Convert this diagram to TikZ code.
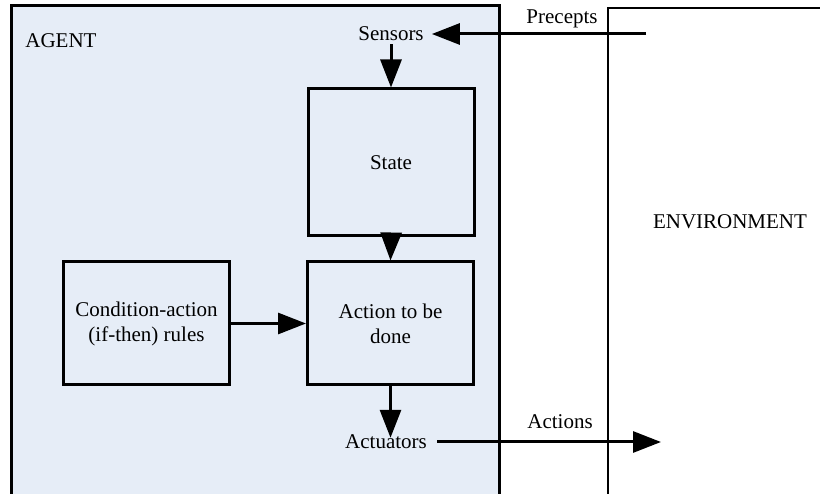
\documentclass[tikz,border=0pt]{standalone}
\usepackage{fontspec}
\setmainfont{Liberation Serif}
\usetikzlibrary{arrows.meta}
\definecolor{agentfill}{HTML}{E6EDF7}
\begin{document}
\begin{tikzpicture}[x=1pt,y=-1pt,
  every node/.style={font=\fontsize{21}{25}\selectfont, inner sep=0pt},
  blockbox/.style={draw, line width=3pt, minimum width=166pt, minimum height=123pt, align=center},
  flow/.style={line width=3pt, -{Triangle[length=28pt,width=21pt]}}]
  \useasboundingbox (0,0) rectangle (820,494);
  \clip (0,0) rectangle (820,494);
  \fill[white] (0,0) rectangle (820,494);
  % environment and agent frames
  \draw[line width=1.6pt] (608,520) -- (608,8) -- (840,8);
  \draw[line width=3pt, fill=agentfill] (11,520) -- (11,6) -- (499,6) -- (499,520);
  % labels
  \node (agent) at (61,41) {AGENT};
  \node (env) at (730,222) {ENVIRONMENT};
  \node (sensors) at (391,34) {Sensors};
  \node (actuators) at (386,442) {Actuators};
  \node (precepts) at (562,19) {Precepts};
  \node (actions) at (560,422) {Actions};
  \coordinate (pin) at (646,34);
  \coordinate (pout) at (661,442);
  % blocks
  \node[blockbox, minimum height=147pt] (state) at (391,162.5) {State};
  \node[blockbox] (act) at (390.5,323.5) {Action to be\\done};
  \node[blockbox] (rules) at (146.5,323.5) {Condition-action\\(if-then) rules};
  % arrows
  \draw[flow] (pin) -- ([xshift=8pt]sensors.east);
  \draw[flow] ([yshift=-3pt]sensors.south) -- (state.north);
  \draw[flow] (act.south) -- ([yshift=-3pt]actuators.north -| act.south);
  \draw[flow] (state.south) -- (act.north);
  \draw[flow] (rules.east) -- (act.west);
  \draw[flow] ([xshift=10pt]actuators.east) -- (pout);
\end{tikzpicture}
\end{document}
